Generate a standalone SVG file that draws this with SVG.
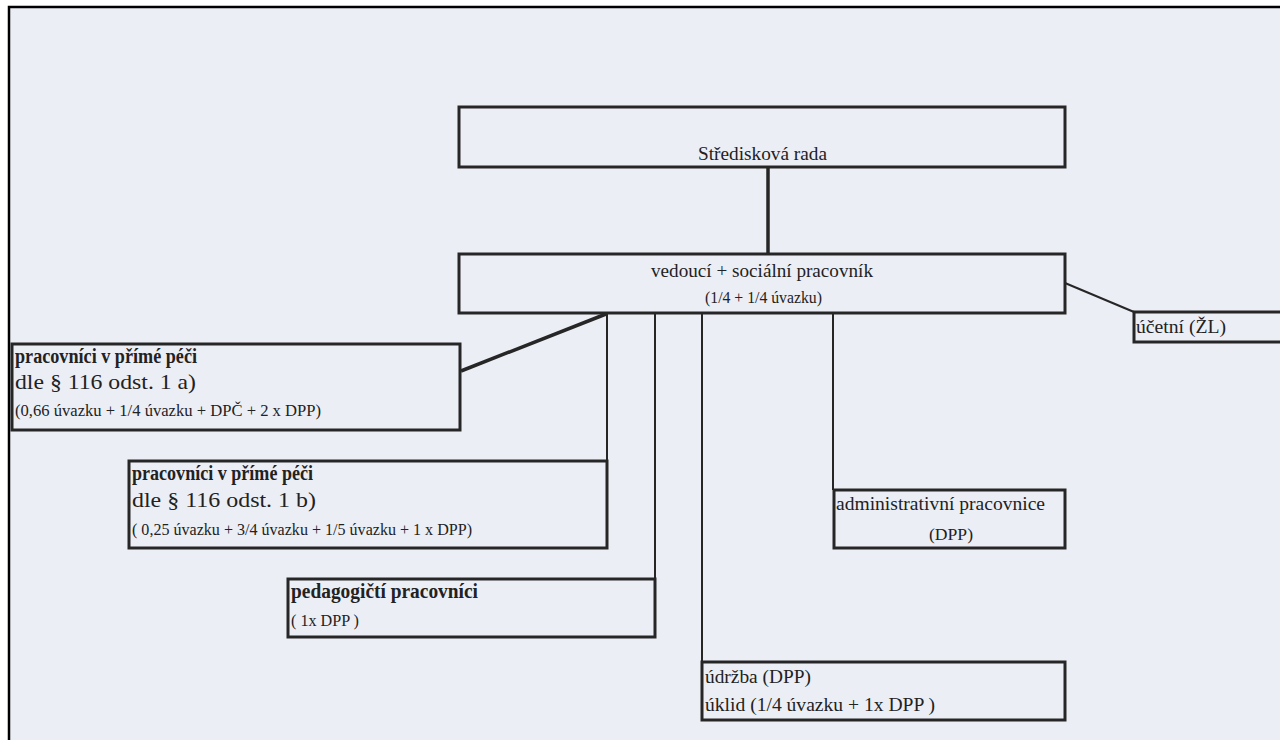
<svg xmlns="http://www.w3.org/2000/svg" width="1280" height="740" viewBox="0 0 1280 740" font-family="Liberation Serif, Times New Roman, DejaVu Serif, serif">
<style>
.box{fill:none;stroke:#262626;stroke-width:3}
.ln{stroke:#262626;stroke-width:2;fill:none}
.lnt{stroke:#262626;stroke-width:3.5;fill:none}
text{font-family:'Liberation Serif','Times New Roman','DejaVu Serif',serif;fill:#222}
.b{font-weight:bold;font-size:20px}
.d{font-size:21.5px}
.m{font-size:19.7px}
.s{font-size:16px}
.t{font-size:19.5px}
</style>
<rect x="0" y="0" width="1280" height="740" fill="#ffffff"/>
<rect x="9" y="7" width="1271" height="733" fill="#eceef6"/>
<path d="M9 740 V7 H1280" fill="none" stroke="#000" stroke-width="2.5"/>
<g id="connectors">
<line class="lnt" x1="768" y1="167" x2="768" y2="254"/>
<line class="lnt" x1="606" y1="314" x2="461" y2="371"/>
<line class="ln" x1="607" y1="313" x2="607" y2="460"/>
<line class="ln" x1="655" y1="313" x2="655" y2="578"/>
<line class="ln" x1="702" y1="313" x2="702" y2="662"/>
<line class="ln" x1="833" y1="313" x2="833" y2="490"/>
<line class="ln" x1="1065" y1="283" x2="1134" y2="312"/>
</g>
<g id="stredisková-rada">
<rect class="box" x="459" y="107" width="606" height="60"/>
<text class="t" x="698" y="160" textLength="129" lengthAdjust="spacingAndGlyphs">Středisková rada</text>
</g>
<g id="vedouci">
<rect class="box" x="459" y="254" width="606" height="59"/>
<text class="t" x="651" y="277" textLength="222" lengthAdjust="spacingAndGlyphs">vedoucí + sociální pracovník</text>
<text class="s" x="705" y="303" textLength="117" lengthAdjust="spacingAndGlyphs">(1/4 + 1/4 úvazku)</text>
</g>
<g id="ucetni">
<rect class="box" x="1134" y="312" width="150" height="30"/>
<text class="t" x="1136" y="333" textLength="90" lengthAdjust="spacingAndGlyphs">účetní (ŽL)</text>
</g>
<g id="pece-a">
<rect class="box" x="12" y="344" width="448" height="86"/>
<text class="b" x="15" y="363" textLength="182" lengthAdjust="spacingAndGlyphs">pracovníci v přímé péči</text>
<text class="d" x="15" y="389" textLength="181" lengthAdjust="spacingAndGlyphs">dle § 116 odst. 1 a)</text>
<text class="s" x="15" y="416" textLength="306" lengthAdjust="spacingAndGlyphs">(0,66 úvazku + 1/4 úvazku + DPČ + 2 x DPP)</text>
</g>
<g id="pece-b">
<rect class="box" x="129" y="461" width="478" height="87"/>
<text class="b" x="132" y="480" textLength="181" lengthAdjust="spacingAndGlyphs">pracovníci v přímé péči</text>
<text class="d" x="132" y="507" textLength="184" lengthAdjust="spacingAndGlyphs">dle § 116 odst. 1 b)</text>
<text class="s" x="132" y="535" textLength="340" lengthAdjust="spacingAndGlyphs">( 0,25 úvazku + 3/4 úvazku + 1/5 úvazku + 1 x DPP)</text>
</g>
<g id="pedagogicti">
<rect class="box" x="288" y="579" width="367" height="58"/>
<text class="b" x="291" y="598" textLength="187" lengthAdjust="spacingAndGlyphs">pedagogičtí pracovníci</text>
<text class="s" x="291" y="626" textLength="68" lengthAdjust="spacingAndGlyphs">( 1x DPP )</text>
</g>
<g id="administrativni">
<rect class="box" x="834" y="490" width="231" height="58"/>
<text class="t" x="836" y="510" textLength="209" lengthAdjust="spacingAndGlyphs">administrativní pracovnice</text>
<text class="s" x="929" y="540" textLength="44" lengthAdjust="spacingAndGlyphs">(DPP)</text>
</g>
<g id="udrzba">
<rect class="box" x="702" y="662" width="363" height="58"/>
<text class="m" x="705" y="683" textLength="106" lengthAdjust="spacingAndGlyphs">údržba (DPP)</text>
<text class="m" x="705" y="711" textLength="230" lengthAdjust="spacingAndGlyphs">úklid (1/4 úvazku + 1x DPP )</text>
</g>
</svg>
